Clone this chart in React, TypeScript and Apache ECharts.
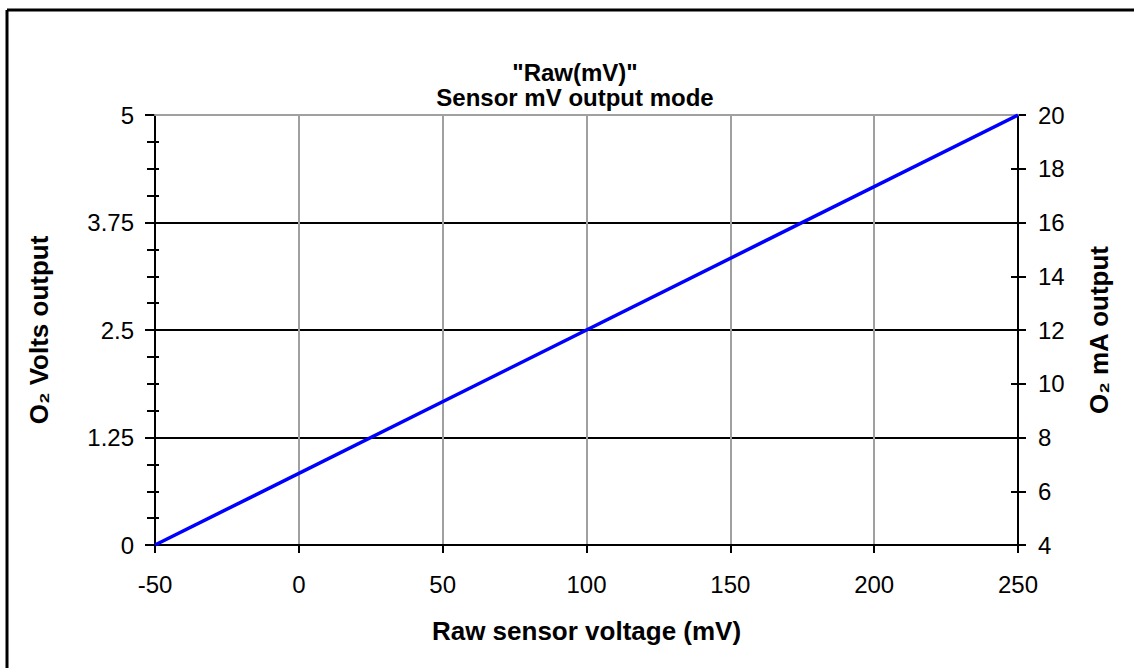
import React, { useEffect, useRef } from "react";
import * as echarts from "echarts";

const titleLines = ['"Raw(mV)"', "Sensor mV output mode"];
const xName = "Raw sensor voltage (mV)";
const yLeftName = "O₂ Volts output";
const yRightName = "O₂ mA output";
const xRange = [-50, 250];
const xStep = 50;
const voltsRange = [0, 5];
const voltsStep = 1.25;
const mARange = [4, 20];
const mAStep = 2;
const linePoints: [number, number][] = [
  [-50, 0],
  [250, 5],
];

const FONT = "Arial, 'Liberation Sans', sans-serif";

export default function App() {
  const ref = useRef<HTMLDivElement>(null);
  useEffect(() => {
    const chart = echarts.init(ref.current!, undefined, { renderer: "svg" });
    const grid = { left: 155, top: 115, right: 116, bottom: 123 };
    const labelStyle = { color: "#000", fontSize: 24, fontFamily: FONT };
    const nameStyle = { color: "#000", fontSize: 26, fontWeight: "bold", fontFamily: FONT };
    chart.setOption({
      animation: false,
      backgroundColor: "#fff",
      title: titleLines.map((t, i) => ({
        text: t,
        left: 575,
        textAlign: "center",
        top: 60 + i * 25,
        padding: 0,
        textStyle: { ...nameStyle, fontSize: 24, lineHeight: 25 },
      })),
      grid,
      xAxis: [
        {
          type: "value",
          min: xRange[0],
          max: xRange[1],
          interval: xStep,
          name: xName,
          nameLocation: "middle",
          nameGap: 73,
          nameTextStyle: nameStyle,
          axisLine: { show: true, onZero: false, lineStyle: { color: "#000", width: 2 } },
          axisTick: { show: true, length: 8, lineStyle: { color: "#000", width: 2 } },
          axisLabel: { ...labelStyle, margin: 27 },
          splitLine: { show: true, lineStyle: { color: "#a0a0a0", width: 2 } },
        },
        {
          type: "value",
          position: "top",
          min: xRange[0],
          max: xRange[1],
          interval: xStep,
          z: 3,
          axisLine: { show: true, onZero: false, lineStyle: { color: "#a0a0a0", width: 2 } },
          axisTick: { show: false },
          axisLabel: { show: false },
          splitLine: { show: false },
        },
      ],
      yAxis: [
        {
          type: "value",
          position: "left",
          min: voltsRange[0],
          max: voltsRange[1],
          interval: voltsStep,
          name: yLeftName,
          nameLocation: "middle",
          nameGap: 103,
          nameRotate: 90,
          nameTextStyle: nameStyle,
          axisLine: { show: true, onZero: false, lineStyle: { color: "#000", width: 2 } },
          axisTick: { show: true, length: 10, lineStyle: { color: "#000", width: 2 } },
          minorTick: { show: true, splitNumber: 4, length: 8, lineStyle: { color: "#000", width: 2 } },
          axisLabel: { ...labelStyle, margin: 21 },
          splitLine: { show: true, lineStyle: { color: "#000", width: 2 } },
        },
        {
          type: "value",
          position: "right",
          min: mARange[0],
          max: mARange[1],
          interval: mAStep,
          name: yRightName,
          nameLocation: "middle",
          nameGap: 68,
          nameRotate: 90,
          nameTextStyle: nameStyle,
          axisLine: { show: true, onZero: false, lineStyle: { color: "#000", width: 2 } },
          axisTick: { show: true, length: 8, lineStyle: { color: "#000", width: 2 } },
          axisLabel: { ...labelStyle, margin: 20 },
          splitLine: { show: false },
        },
        {
          type: "value",
          position: "left",
          min: voltsRange[0],
          max: voltsRange[1],
          interval: voltsStep,
          axisLine: { show: false, onZero: false },
          axisTick: { show: false, inside: true },
          minorTick: { show: true, splitNumber: 4, length: 4, lineStyle: { color: "#000", width: 2 } },
          axisLabel: { show: false, inside: true },
          splitLine: { show: false },
        },
        {
          type: "value",
          position: "right",
          min: mARange[0],
          max: mARange[1],
          interval: mAStep,
          axisLine: { show: false, onZero: false },
          axisTick: { show: true, inside: true, length: 7, lineStyle: { color: "#000", width: 2 } },
          axisLabel: { show: false, inside: true },
          splitLine: { show: false },
        },
      ],
      graphic: [
        { type: "line", shape: { x1: 7, y1: 10, x2: 1134, y2: 10 }, style: { stroke: "#000", lineWidth: 3 } },
        { type: "line", shape: { x1: 7, y1: 10, x2: 7, y2: 668 }, style: { stroke: "#000", lineWidth: 3 } },
      ],
      series: [
        {
          type: "line",
          xAxisIndex: 0,
          yAxisIndex: 0,
          data: linePoints,
          symbol: "none",
          lineStyle: { color: "#0000ff", width: 3.5 },
          z: 5,
        },
      ],
    });
    return () => chart.dispose();
  }, []);
  return <div ref={ref} style={{ position: "absolute", left: 0, top: 0, width: 1134, height: 668 }} />;
}
